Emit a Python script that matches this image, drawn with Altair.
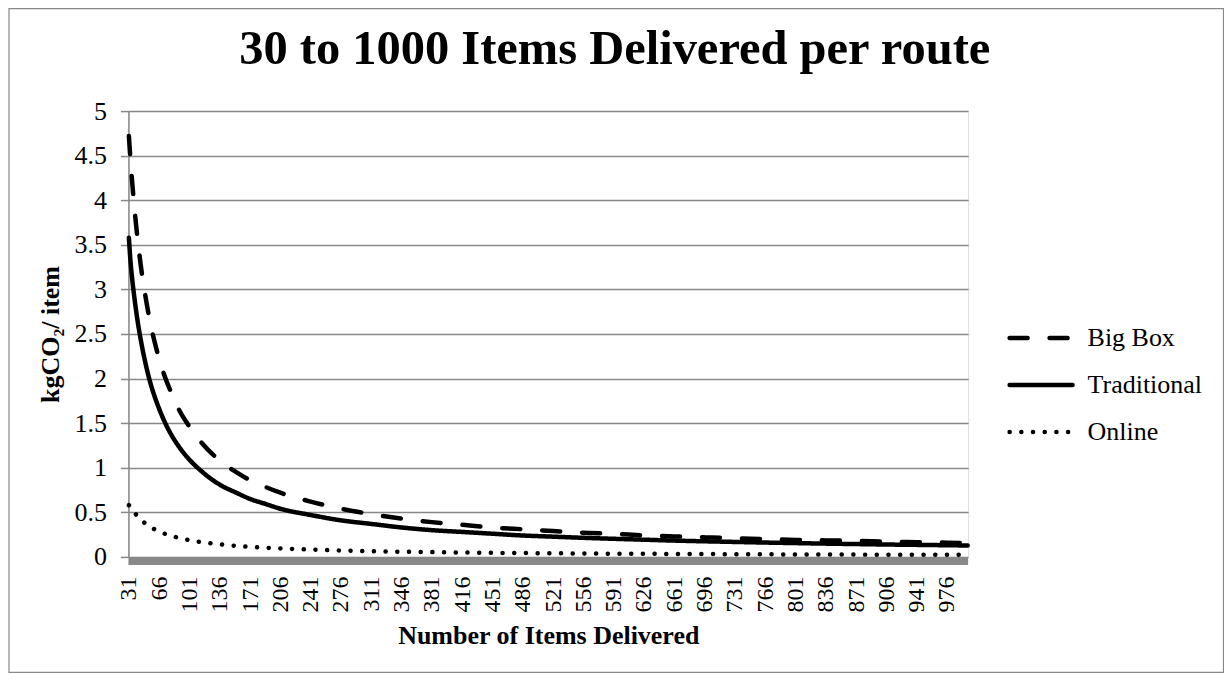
import altair as alt
import pandas as pd

series_names = ["Big Box", "Traditional", "Online"]

items = [31, 33, 35, 38, 41, 45, 50, 55, 60, 66, 73, 80, 90, 101, 115, 136, 155,
         171, 190, 206, 241, 276, 311, 346, 381, 416, 451, 486, 521, 556, 591, 626,
         661, 696, 731, 766, 801, 836, 871, 906, 941, 976, 1000]

big_box = [4.72, 4.43, 4.18, 3.85, 3.57, 3.25, 2.93, 2.66, 2.44, 2.22, 2.01, 1.84,
           1.63, 1.46, 1.28, 1.08, 0.95, 0.86, 0.78, 0.72, 0.62, 0.54, 0.48, 0.43,
           0.39, 0.36, 0.33, 0.31, 0.29, 0.27, 0.26, 0.24, 0.23, 0.22, 0.21, 0.20,
           0.19, 0.185, 0.18, 0.17, 0.165, 0.16, 0.155]

traditional = [3.58, 3.30, 3.10, 2.86, 2.65, 2.42, 2.18, 1.98, 1.82, 1.66, 1.50,
               1.37, 1.22, 1.09, 0.96, 0.81, 0.72, 0.65, 0.59, 0.54, 0.47, 0.41,
               0.37, 0.33, 0.30, 0.28, 0.26, 0.24, 0.227, 0.214, 0.203, 0.193,
               0.183, 0.175, 0.168, 0.161, 0.155, 0.149, 0.144, 0.139, 0.135,
               0.131, 0.128]

online = [0.58, 0.565, 0.53, 0.49, 0.455, 0.416, 0.375, 0.341, 0.313, 0.285, 0.258,
          0.236, 0.21, 0.188, 0.166, 0.141, 0.124, 0.113, 0.102, 0.095, 0.082,
          0.072, 0.064, 0.058, 0.054, 0.049, 0.046, 0.043, 0.041, 0.038, 0.036,
          0.035, 0.033, 0.032, 0.030, 0.029, 0.028, 0.027, 0.026, 0.025, 0.025,
          0.024, 0.023]

x_tick_labels = [31, 66, 101, 136, 171, 206, 241, 276, 311, 346, 381, 416, 451, 486,
                 521, 556, 591, 626, 661, 696, 731, 766, 801, 836, 871, 906, 941, 976]
y_tick_labels = [0, 0.5, 1, 1.5, 2, 2.5, 3, 3.5, 4, 4.5, 5]
chart_title = "30 to 1000 Items Delivered per route"

rows = []
for name, vals in zip(series_names, [big_box, traditional, online]):
    for n, v in zip(items, vals):
        rows.append({"series": name, "items": n, "value": v})
df = pd.DataFrame(rows)

legend_df = pd.DataFrame([{"series": s, "end": e} for s in series_names for e in (0, 1)])
label_df = pd.DataFrame({"series": series_names})

SERIF = "Liberation Serif"
W, H = 840, 446
GRAY = "#888888"

dash_scale = alt.Scale(domain=series_names, range=[[18, 22], [1, 0], [0.1, 11.6]])
width_scale = alt.Scale(domain=series_names, range=[4.5, 4.5, 5.5])

lines = alt.Chart(df).mark_line(color="black", strokeCap="round", interpolate="monotone").encode(
    x=alt.X("items:Q",
            scale=alt.Scale(domain=[30.5, 1000.5], nice=False, zero=False),
            axis=alt.Axis(values=x_tick_labels, labelAngle=-90, labelFont=SERIF,
                          labelFontSize=24, labelColor="black", ticks=False,
                          domain=False, grid=False, labelPadding=19,
                          labelOverlap=False, labelFlush=False,
                          title="Number of Items Delivered", titleFont=SERIF,
                          titleFontSize=26, titleFontWeight="bold",
                          titleColor="black", titlePadding=11)),
    y=alt.Y("value:Q",
            scale=alt.Scale(domain=[0, 5], nice=False),
            axis=alt.Axis(values=y_tick_labels, format=".1~f", labelFont=SERIF,
                          labelFontSize=26, labelColor="black", tickSize=8,
                          tickColor=GRAY, tickWidth=1.5, domainColor=GRAY,
                          domainWidth=1.5, gridColor=GRAY, gridWidth=1.5,
                          labelPadding=14, title="kgCO₂/ item", titleFont=SERIF,
                          titleFontSize=26, titleFontWeight="bold",
                          titleColor="black", titlePadding=10)),
    strokeDash=alt.StrokeDash("series:N", scale=dash_scale, legend=None),
    strokeWidth=alt.StrokeWidth("series:N", scale=width_scale, legend=None),
    detail="series:N",
)

band = alt.Chart(pd.DataFrame({"k": [0]})).mark_rect(color=GRAY).encode(
    x=alt.value(0), x2=alt.value(W), y=alt.value(H), y2=alt.value(H + 8)
)

leg_lines = alt.Chart(legend_df).mark_line(color="black", strokeCap="round").encode(
    x=alt.X("end:Q", scale=alt.Scale(domain=[0, 1], range=[881.5, 944.5]), axis=None),
    y=alt.Y("series:N", scale=alt.Scale(type="point", domain=series_names,
                                         range=[227, 321], padding=0), axis=None),
    strokeDash=alt.StrokeDash("series:N", scale=dash_scale, legend=None),
    strokeWidth=alt.StrokeWidth("series:N", scale=width_scale, legend=None),
    detail="series:N",
)

leg_text = alt.Chart(label_df).mark_text(align="left", baseline="middle", font=SERIF,
                                          fontSize=26, color="black").encode(
    x=alt.value(959.5),
    y=alt.Y("series:N", scale=alt.Scale(type="point", domain=series_names,
                                         range=[227, 321], padding=0), axis=None),
    text="series:N",
)

title_mark = alt.Chart(pd.DataFrame({"t": [chart_title]})).mark_text(
    align="center", baseline="middle", font=SERIF, fontSize=48.5, fontWeight="bold",
    color="black").encode(
    x=alt.value(486.5), y=alt.value(-62), text="t:N"
)

border = alt.Chart(pd.DataFrame({"k": [0]})).mark_rect(
    filled=False, stroke=GRAY, strokeWidth=1.2).encode(
    x=alt.value(-119.5), x2=alt.value(1095.5), y=alt.value(-102.5), y2=alt.value(561.5)
)

chart = alt.layer(lines, band, leg_lines, leg_text, title_mark, border).resolve_scale(
    x="independent", y="independent"
).properties(
    width=W, height=H,
    autosize=alt.AutoSizeParams(type="none"),
    padding={"left": 120.5, "top": 103, "right": 256, "bottom": 116},
).configure_view(stroke=None).configure(background="white")

chart.save("out.html", embed_options={"renderer": "svg", "actions": False})
